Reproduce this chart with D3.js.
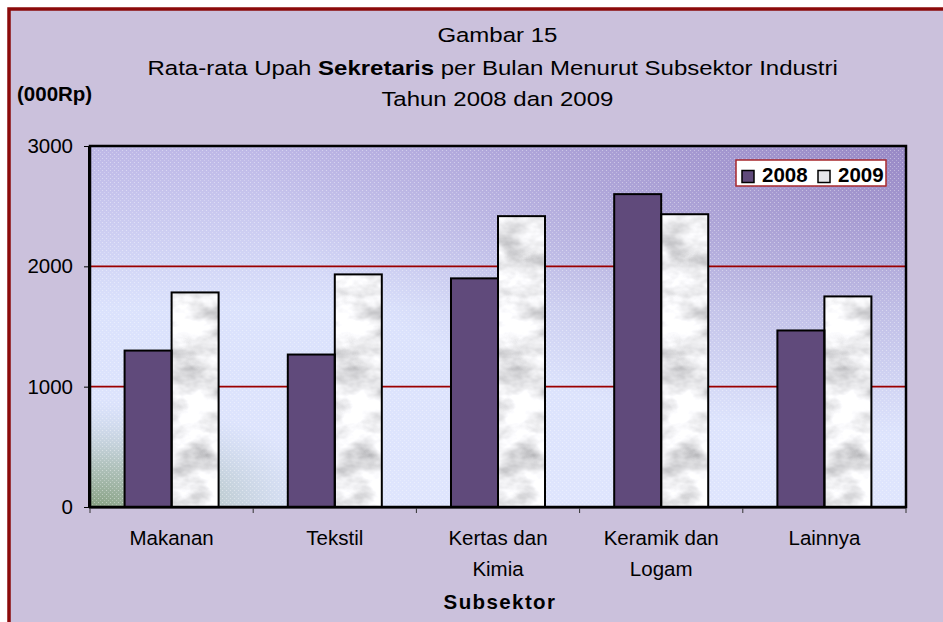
<!DOCTYPE html>
<html>
<head>
<meta charset="utf-8">
<script src="https://cdn.jsdelivr.net/npm/d3@7"></script>
<style>
  body { margin: 0; background: #fff; }
  svg { display: block; font-family: "Liberation Sans", Arial, sans-serif; }
</style>
</head>
<body>
<div id="chart"></div>
<script>
// data
var categories = ["Makanan", "Tekstil", "Kertas dan Kimia", "Keramik dan Logam", "Lainnya"];
var tickLines = [["Makanan"], ["Tekstil"], ["Kertas dan", "Kimia"], ["Keramik dan", "Logam"], ["Lainnya"]];
var seriesNames = ["2008", "2009"];
var values2008 = [1300, 1267, 1900, 2600, 1467];
var values2009 = [1783, 1933, 2417, 2433, 1750];
var yTicks = [0, 1000, 2000, 3000];

var width = 943, height = 622;
var margin = {top: 146, right: 37, bottom: 115, left: 90};
var innerW = width - margin.left - margin.right,
    innerH = height - margin.top - margin.bottom;
var fontSize = 20.5;

var svg = d3.select("#chart").append("svg")
    .attr("width", width)
    .attr("height", height);

var defs = svg.append("defs");

// plot area background
var bg = defs.append("linearGradient").attr("id", "bgVert")
    .attr("x1", 0).attr("y1", 0).attr("x2", 0).attr("y2", 1);
bg.append("stop").attr("offset", "0%").attr("stop-color", "#bdb7e6");
bg.append("stop").attr("offset", "45%").attr("stop-color", "#dbe2fc");
bg.append("stop").attr("offset", "100%").attr("stop-color", "#dfe5fd");

var purpleCorner = defs.append("radialGradient").attr("id", "bgPurple")
    .attr("cx", 1).attr("cy", 0).attr("r", 0.8);
purpleCorner.append("stop").attr("offset", "0%").attr("stop-color", "#9281c0").attr("stop-opacity", 0.85);
purpleCorner.append("stop").attr("offset", "100%").attr("stop-color", "#9281c0").attr("stop-opacity", 0);

var greenCorner = defs.append("radialGradient").attr("id", "bgGreen")
    .attr("cx", 0).attr("cy", 1).attr("r", 0.3);
greenCorner.append("stop").attr("offset", "0%").attr("stop-color", "#86a080").attr("stop-opacity", 1);
greenCorner.append("stop").attr("offset", "40%").attr("stop-color", "#9fb5a4").attr("stop-opacity", 0.7);
greenCorner.append("stop").attr("offset", "100%").attr("stop-color", "#c0d0e0").attr("stop-opacity", 0);

var dots = defs.append("pattern").attr("id", "dots")
    .attr("width", 4).attr("height", 4).attr("patternUnits", "userSpaceOnUse");
dots.append("rect").attr("width", 1).attr("height", 1).attr("fill", "#fff").attr("opacity", 0.4);
dots.append("rect").attr("x", 2).attr("y", 2).attr("width", 1).attr("height", 1).attr("fill", "#fff").attr("opacity", 0.25);

// marble texture for 2009 bars
var marble = defs.append("filter").attr("id", "marble")
    .attr("x", 0).attr("y", 0).attr("width", 1).attr("height", 1);
marble.append("feTurbulence")
    .attr("type", "fractalNoise")
    .attr("baseFrequency", "0.025 0.04")
    .attr("numOctaves", 4)
    .attr("seed", 7)
    .attr("result", "noise");
marble.append("feColorMatrix").attr("in", "noise").attr("type", "matrix")
    .attr("values", "1.25 0 0 0 0.22  1.25 0 0 0 0.22  1.25 0 0 0 0.24  0 0 0 0 1")
    .attr("result", "gray");
marble.append("feComposite").attr("in", "gray").attr("in2", "SourceGraphic").attr("operator", "in");

// outer frame
svg.append("rect")
    .attr("x", 9).attr("y", 9)
    .attr("width", width + 10).attr("height", height + 10)
    .attr("fill", "#cbc1dc")
    .attr("stroke", "#8b0a0a")
    .attr("stroke-width", 3.5);

// titles (the original text is rendered wide, so stretch it horizontally)
var title = svg.append("text")
    .attr("transform", "translate(495,0) scale(1.17,1)")
    .attr("text-anchor", "middle")
    .attr("font-size", fontSize)
    .attr("fill", "#000");
title.append("tspan").attr("x", 2).attr("y", 42).text("Gambar 15");
var t2 = title.append("tspan").attr("x", -2).attr("y", 75);
t2.append("tspan").text("Rata-rata Upah ");
t2.append("tspan").attr("font-weight", "bold").text("Sekretaris");
t2.append("tspan").text(" per Bulan Menurut Subsektor Industri");
title.append("tspan").attr("x", 2).attr("y", 106).text("Tahun 2008 dan 2009");

svg.append("text")
    .attr("x", 17).attr("y", 101)
    .attr("font-size", fontSize)
    .attr("font-weight", "bold")
    .text("(000Rp)");

var g = svg.append("g").attr("transform", "translate(" + margin.left + "," + margin.top + ")");

var x = d3.scaleBand().domain(categories).range([0, innerW]).padding(0);
var xs = d3.scaleBand().domain(seriesNames).range([0, x.bandwidth()]).paddingInner(0).paddingOuter(0.736);
var y = d3.scaleLinear().domain([0, 3000]).range([innerH, 0]);

g.append("rect").attr("width", innerW).attr("height", innerH).attr("fill", "url(#bgVert)");
g.append("rect").attr("width", innerW).attr("height", innerH).attr("fill", "url(#bgPurple)");
g.append("rect").attr("width", innerW).attr("height", innerH).attr("fill", "url(#bgGreen)");
g.append("rect").attr("width", innerW).attr("height", innerH).attr("fill", "url(#dots)");

// gridlines
g.append("g").selectAll("line")
    .data(yTicks.filter(function(d) { return d > 0 && d < 3000; }))
    .enter().append("line")
    .attr("x1", 0).attr("x2", innerW)
    .attr("y1", function(d) { return y(d); })
    .attr("y2", function(d) { return y(d); })
    .attr("stroke", "#9c0000")
    .attr("stroke-width", 1.6);

var rows = categories.map(function(c, i) {
    return {cat: c, vals: [{s: "2008", v: values2008[i]}, {s: "2009", v: values2009[i]}]};
});

var groups = g.selectAll(".grp").data(rows).enter().append("g")
    .attr("class", "grp")
    .attr("transform", function(d) { return "translate(" + x(d.cat) + ",0)"; });

groups.selectAll(".fillbar").data(function(d) { return d.vals; }).enter().append("rect")
    .attr("class", "fillbar")
    .attr("x", function(d) { return xs(d.s); })
    .attr("y", function(d) { return y(d.v); })
    .attr("width", xs.bandwidth())
    .attr("height", function(d) { return innerH - y(d.v); })
    .attr("fill", function(d) { return d.s == "2008" ? "#604a7b" : "#fff"; })
    .attr("filter", function(d) { return d.s == "2009" ? "url(#marble)" : null; });

groups.selectAll(".outline").data(function(d) { return d.vals; }).enter().append("rect")
    .attr("class", "outline")
    .attr("x", function(d) { return xs(d.s); })
    .attr("y", function(d) { return y(d.v); })
    .attr("width", xs.bandwidth())
    .attr("height", function(d) { return innerH - y(d.v); })
    .attr("fill", "none")
    .attr("stroke", "#000")
    .attr("stroke-width", 2);

// plot border
g.append("rect").attr("width", innerW).attr("height", innerH)
    .attr("fill", "none").attr("stroke", "#000").attr("stroke-width", 2.5);
g.append("line").attr("x1", -1).attr("x2", -1).attr("y1", 0).attr("y2", innerH + 1)
    .attr("stroke", "#000").attr("stroke-width", 2);
g.append("line").attr("x1", -1).attr("x2", innerW).attr("y1", innerH + 0.5).attr("y2", innerH + 0.5)
    .attr("stroke", "#000").attr("stroke-width", 2);

// y axis
var yAxis = g.append("g")
    .attr("transform", "translate(-1,0)")
    .call(d3.axisLeft(y).tickValues(yTicks).tickFormat(d3.format("d")).tickSize(5).tickPadding(11));
yAxis.select(".domain").remove();
yAxis.selectAll("line").attr("stroke", "#000");
yAxis.selectAll("text")
    .attr("font-size", fontSize)
    .attr("font-family", "Liberation Sans, Arial, sans-serif")
    .attr("fill", "#000");

// x axis: ticks at category boundaries, labels at centers
var xAxis = g.append("g")
    .attr("transform", "translate(0," + (innerH + 1) + ")")
    .call(d3.axisBottom(x).tickSize(0).tickPadding(0));
xAxis.select(".domain").remove();
xAxis.selectAll(".tick text").each(function(d, i) {
    var t = d3.select(this).text(null)
        .attr("font-size", fontSize)
        .attr("font-family", "Liberation Sans, Arial, sans-serif")
        .attr("fill", "#000")
        .attr("dy", null)
        .attr("y", 0);
    tickLines[i].forEach(function(line, k) {
        t.append("tspan").attr("x", 0).attr("y", 37 + k * 31).text(line);
    });
});
xAxis.selectAll(".bound").data(d3.range(categories.length + 1)).enter().append("line")
    .attr("class", "bound")
    .attr("x1", function(i) { return i * x.step(); })
    .attr("x2", function(i) { return i * x.step(); })
    .attr("y1", 0).attr("y2", 5)
    .attr("stroke", "#333").attr("stroke-width", 1);

svg.append("text")
    .attr("x", margin.left + innerW / 2 + 2)
    .attr("y", 609)
    .attr("text-anchor", "middle")
    .attr("font-size", fontSize)
    .attr("font-weight", "bold")
    .attr("letter-spacing", 1.4)
    .text("Subsektor");

// legend
var legend = svg.append("g").attr("transform", "translate(736,160)");
legend.append("rect").attr("width", 150).attr("height", 26)
    .attr("fill", "#fff").attr("stroke", "#a8282c").attr("stroke-width", 1.5);
var items = legend.selectAll(".item").data(seriesNames).enter().append("g")
    .attr("class", "item")
    .attr("transform", function(d, i) { return "translate(" + (6 + i * 76) + ",0)"; });
items.append("rect")
    .attr("x", 0).attr("y", 10.5).attr("width", 12).attr("height", 12)
    .attr("fill", function(d) { return d == "2008" ? "#604a7b" : "#e6e6ea"; })
    .attr("stroke", "#000").attr("stroke-width", 1.5);
items.append("text")
    .attr("x", 20).attr("y", 22)
    .attr("font-size", fontSize)
    .attr("font-weight", "bold")
    .text(function(d) { return d; });
</script>
</body>
</html>
